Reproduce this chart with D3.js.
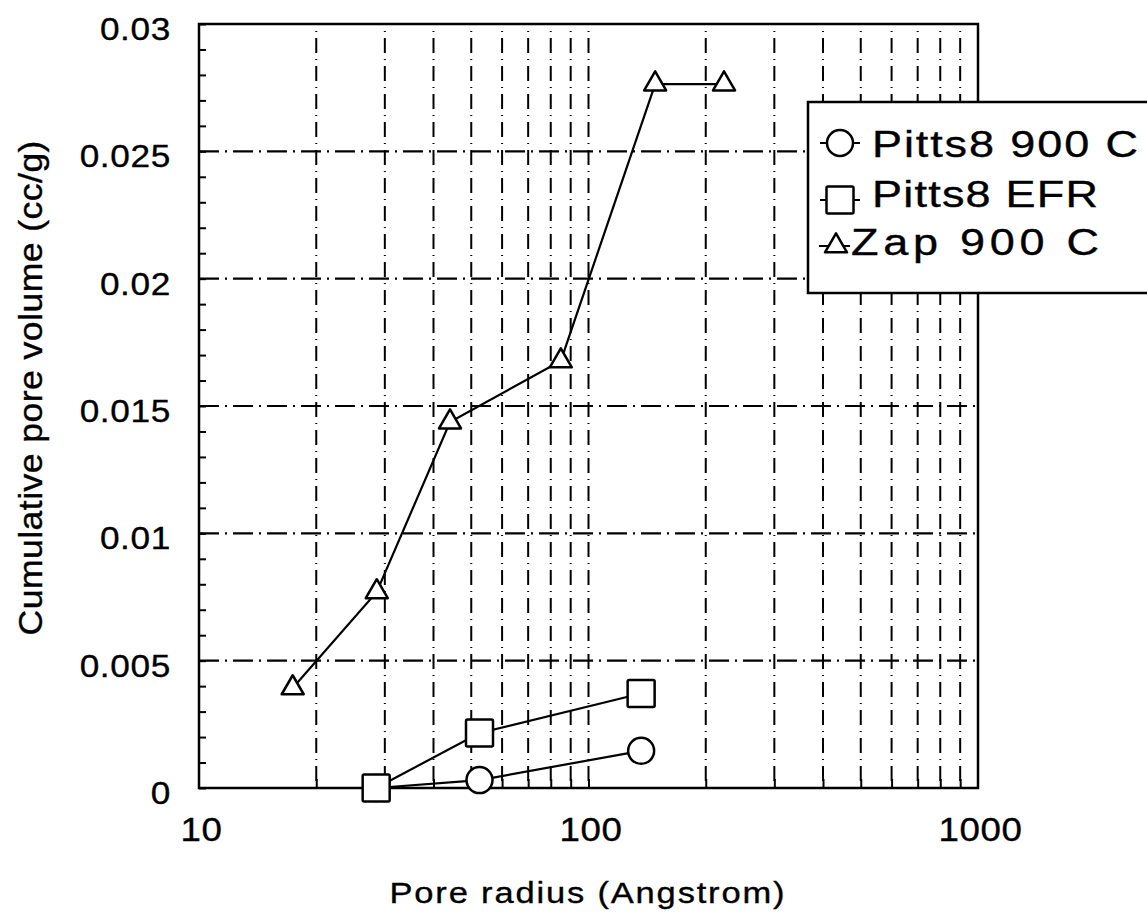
<!DOCTYPE html>
<html>
<head>
<meta charset="utf-8">
<script src="https://cdn.jsdelivr.net/npm/d3@7"></script>
<style>
  html, body { margin: 0; padding: 0; background: #fff; }
  svg text { font-family: "Liberation Sans", Arial, Helvetica, sans-serif; fill: #000; stroke: #000; stroke-width: 0.35px; }
</style>
</head>
<body>
<svg id="chart" width="1147" height="918"></svg>
<script>
// ---- Data ----
const seriesNames = ["Pitts8 900 C", "Pitts8 EFR", "Zap 900 C"];
const pitts900X = [28.5, 52.5, 136.5];
const pitts900Y = [0, 0.00031, 0.00146];
const pittsEfrX = [28.5, 52.5, 136.5];
const pittsEfrY = [0, 0.00216, 0.00371];
const zapX = [17.4, 28.6, 44.1, 84.9, 148.3, 222.8];
const zapY = [0.00393, 0.0077, 0.01437, 0.01677, 0.02764, 0.02764];
const xTickValues = [10, 100, 1000];
const xTickLabels = ["10", "100", "1000"];
const yTickValues = [0, 0.005, 0.01, 0.015, 0.02, 0.025, 0.03];
const yTickLabels = ["0", "0.005", "0.01", "0.015", "0.02", "0.025", "0.03"];
const xTitle = "Pore radius (Angstrom)";
const yTitle = "Cumulative pore volume (cc/g)";

// ---- Layout ----
const L = 199, R = 978, T = 24, B = 788;
const svg = d3.select("#chart");
const x = d3.scaleLog().domain([10, 1000]).range([L, R]);
const y = d3.scaleLinear().domain([0, 0.03]).range([B, T]);

// vertical grid (log minor lines)
const xGrid = x.ticks().filter(v => v > 10 && v < 1000);
svg.append("g").selectAll("line").data(xGrid).join("line")
  .attr("x1", d => x(d)).attr("x2", d => x(d))
  .attr("y1", T).attr("y2", B)
  .attr("stroke", "#000").attr("stroke-width", 2)
  .attr("stroke-dasharray", "15,6,1,6").attr("stroke-dashoffset", -14);

// horizontal grid
const yGrid = yTickValues.filter(v => v > 0 && v < 0.03);
svg.append("g").selectAll("line").data(yGrid).join("line")
  .attr("x1", L).attr("x2", R)
  .attr("y1", d => y(d)).attr("y2", d => y(d))
  .attr("stroke", "#000").attr("stroke-width", 2.2)
  .attr("stroke-dasharray", "20,6,2,6");

// minor y ticks (inside)
const yMinor = d3.range(0, 31).map(i => i / 1000);
svg.append("g").attr("transform", `translate(${L},0)`)
  .call(d3.axisLeft(y).tickValues(yMinor).tickSize(-7).tickFormat("").tickSizeOuter(0))
  .call(g => g.select(".domain").remove())
  .selectAll("line").attr("stroke-width", 2);

// minor x ticks (inside, bottom)
svg.append("g").attr("transform", `translate(0,${B})`)
  .call(d3.axisBottom(x).tickValues(xGrid).tickSize(-9).tickFormat("").tickSizeOuter(0))
  .call(g => g.select(".domain").remove())
  .selectAll("line").attr("stroke-width", 2);

// y labels via axis (slightly widened glyphs)
const sY = 1.1;
svg.append("g").attr("transform", `translate(${L - 28},0)`)
  .call(d3.axisLeft(y).tickValues(yTickValues).tickSize(0)
        .tickFormat((d, i) => yTickLabels[i]))
  .call(g => g.select(".domain").remove())
  .selectAll("text")
    .attr("font-size", 32).attr("letter-spacing", 0.6)
    .attr("font-family", "'Liberation Sans', Arial, sans-serif")
    .attr("x", 0).attr("dy", null).attr("y", 15.5)
    .attr("transform", `scale(${sY},1)`);

// x labels via axis
const sX = 1.08;
svg.append("g").attr("transform", `translate(2,${B})`)
  .call(d3.axisBottom(x).tickValues(xTickValues).tickSize(0)
        .tickFormat((d, i) => xTickLabels[i]))
  .call(g => g.select(".domain").remove())
  .selectAll("text")
    .attr("font-size", 34).attr("letter-spacing", 0.6)
    .attr("font-family", "'Liberation Sans', Arial, sans-serif")
    .attr("dy", null).attr("y", 53)
    .attr("transform", `scale(${sX},1)`);

// frame
svg.append("rect").attr("x", L).attr("y", T).attr("width", R - L).attr("height", B - T)
  .attr("fill", "none").attr("stroke", "#000").attr("stroke-width", 2.5);

// helper for widened text
function wideText(parent, tx, ty, str, size, width, scale, anchor, rotate) {
  const g = parent.append("g").attr("transform",
    `translate(${tx},${ty})` + (rotate ? ` rotate(${rotate})` : "") + ` scale(${scale},1)`);
  g.append("text").attr("x", 0).attr("y", 0).attr("text-anchor", anchor)
    .attr("font-size", size).attr("textLength", width / scale).attr("lengthAdjust", "spacing")
    .text(str);
  return g;
}

// axis titles
wideText(svg, 587, 903, xTitle, 30, 395, 1.15, "middle");
wideText(svg, 42, 388, yTitle, 33, 495, 1.08, "middle", -90);

// ---- series ----
const line = d3.line().x(d => x(d[0])).y(d => y(d[1]));
const triPath = (w, h) => `M0,${-2 * h / 3}L${w / 2},${h / 3}L${-w / 2},${h / 3}Z`;
const series = [
  { name: seriesNames[0], pts: d3.zip(pitts900X, pitts900Y), shape: "circle" },
  { name: seriesNames[1], pts: d3.zip(pittsEfrX, pittsEfrY), shape: "square" },
  { name: seriesNames[2], pts: d3.zip(zapX, zapY), shape: "triangle" }
];

function drawMarker(g, shape, cx, cy) {
  if (shape === "circle") {
    g.append("circle").attr("cx", cx).attr("cy", cy).attr("r", 13)
      .attr("fill", "#fff").attr("stroke", "#000").attr("stroke-width", 2.5);
  } else if (shape === "square") {
    g.append("rect").attr("x", cx - 13.5).attr("y", cy - 13.5).attr("width", 27).attr("height", 27)
      .attr("rx", 1.5)
      .attr("fill", "#fff").attr("stroke", "#000").attr("stroke-width", 2.5);
  } else {
    g.append("path").attr("d", triPath(22, 19)).attr("transform", `translate(${cx},${cy})`)
      .attr("fill", "#fff").attr("stroke", "#000").attr("stroke-width", 2.5)
      .attr("stroke-linejoin", "round");
  }
}

const plot = svg.append("g");
series.forEach(s => {
  plot.append("path").attr("d", line(s.pts)).attr("fill", "none")
    .attr("stroke", "#000").attr("stroke-width", 2.2);
});
series.forEach(s => {
  s.pts.forEach(p => drawMarker(plot, s.shape, x(p[0]), y(p[1])));
});

// ---- legend ----
const lg = svg.append("g");
lg.append("rect").attr("x", 808).attr("y", 102).attr("width", 345).attr("height", 191)
  .attr("fill", "#fff").attr("stroke", "#000").attr("stroke-width", 2.5);
const legendRows = [
  { s: series[0], my: 143, ty: 157, tx: 872, len: 266, cx: 840, x1: 820, x2: 860 },
  { s: series[1], my: 200, ty: 207, tx: 872, len: 226, cx: 840, x1: 820, x2: 860 },
  { s: series[2], my: 246, ty: 255, tx: 851, len: 248, cx: 836, x1: 819, x2: 850 }
];
legendRows.forEach(r => {
  lg.append("line").attr("x1", r.x1).attr("x2", r.x2).attr("y1", r.my).attr("y2", r.my)
    .attr("stroke", "#000").attr("stroke-width", 2);
  drawMarker(lg, r.s.shape, r.cx, r.my);
  wideText(lg, r.tx, r.ty, r.s.name, 36, r.len, 1.25, "start");
});
</script>
</body>
</html>
